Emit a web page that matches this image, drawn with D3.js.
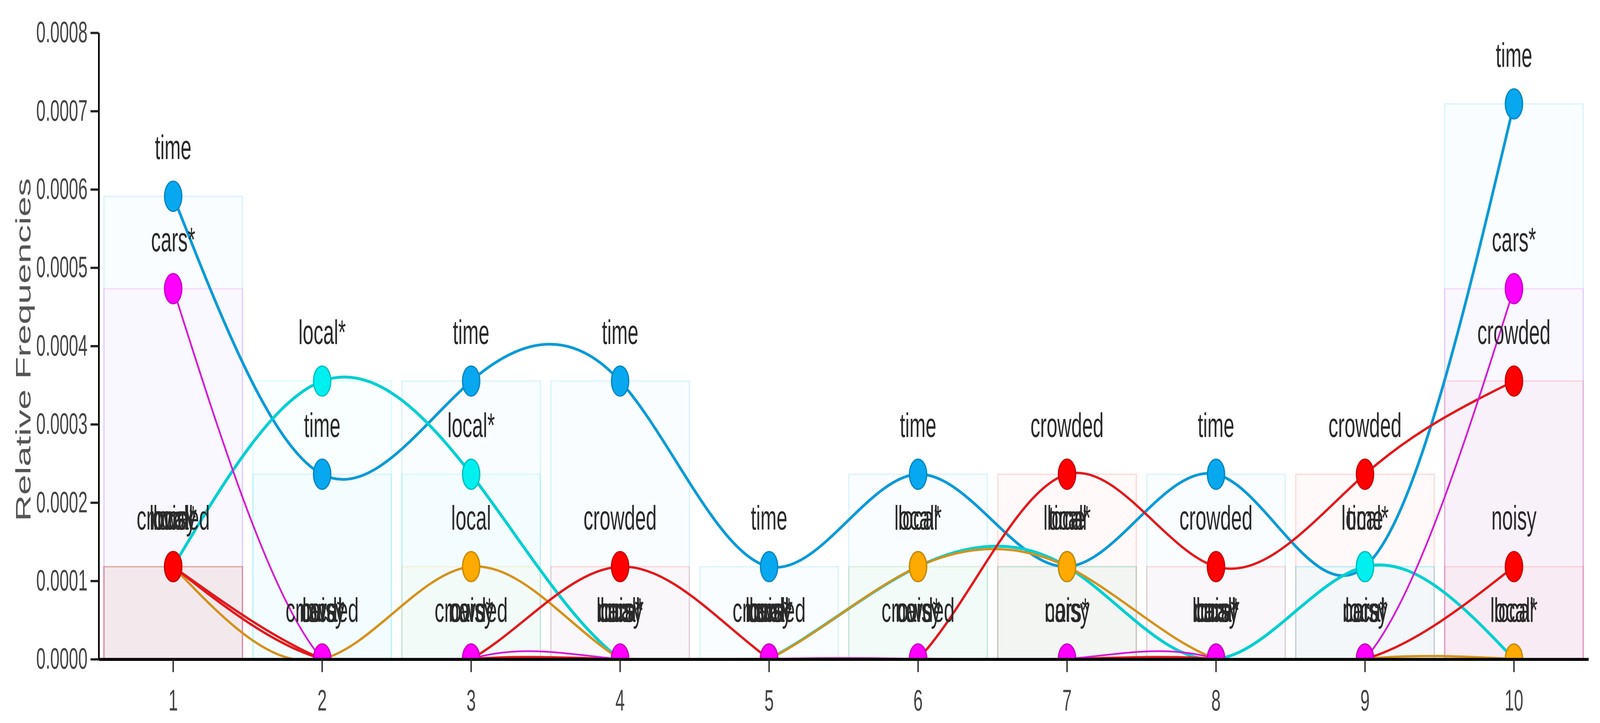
<!DOCTYPE html>
<html>
<head>
<meta charset="utf-8">
<script src="https://cdn.jsdelivr.net/npm/d3@7"></script>
<style>
  html, body { margin: 0; padding: 0; background: #fff; overflow: hidden; width: 100%; height: 100%; }
  svg { display: block; width: 100vw; height: 100vh; }
</style>
</head>
<body>
<svg id="chart"></svg>
<script>
// data
const categories = ["1", "2", "3", "4", "5", "6", "7", "8", "9", "10"];
const seriesNames = ["time", "local*", "local", "crowded", "noisy", "cars*"];
const timeVals    = [0.000591, 0.000236, 0.000355, 0.000355, 0.000118, 0.000236, 0.000118, 0.000236, 0.000118, 0.000709];
const localStar   = [0.000118, 0.000355, 0.000236, 0, 0, 0.000118, 0.000118, 0, 0.000118, 0];
const localVals   = [0.000118, 0, 0.000118, 0, 0, 0.000118, 0.000118, 0, 0, 0];
const crowdedVals = [0.000118, 0, 0, 0.000118, 0, 0, 0.000236, 0.000118, 0.000236, 0.000355];
const noisyVals   = [0.000118, 0, 0, 0, 0, 0, 0, 0, 0, 0.000118];
const carsStar    = [0.000473, 0, 0, 0, 0, 0, 0, 0, 0, 0.000473];
const yTicks = [0, 0.0001, 0.0002, 0.0003, 0.0004, 0.0005, 0.0006, 0.0007, 0.0008];

const seriesValues = [timeVals, localStar, localVals, crowdedVals, noisyVals, carsStar];

// look of each series (line widths are screen pixels)
const styles = {
  "time":    { dot: "#08a8f0", line: "#0b9ad8", width: 7 },
  "local*":  { dot: "#00f0f0", line: "#00cfd2", width: 7.5 },
  "local":   { dot: "#ffaa00", line: "#d4921c", width: 6 },
  "crowded": { dot: "#ff0000", line: "#e3191c", width: 6 },
  "noisy":   { dot: "#ff0000", line: "#e3191c", width: 6 },
  "cars*":   { dot: "#ff00ff", line: "#d61ad6", width: 4.5 }
};

// the reference is stretched vertically, so draw in a squat box and stretch it
const W = 4296, H = 1108;
const mLeft = 265, mRight = 4265, mTop = 50, mBottom = 1010;

const svg = d3.select("#chart")
  .attr("viewBox", `0 0 ${W} ${H}`)
  .attr("preserveAspectRatio", "none");

const x = d3.scaleBand()
  .domain(categories)
  .range([mLeft, mRight])
  .paddingInner(0.07)
  .paddingOuter(0.035);

const y = d3.scaleLinear()
  .domain([0, 0.0008])
  .range([mBottom, mTop]);

const series = seriesNames.map((name, i) => ({
  name,
  values: seriesValues[i].map((v, j) => ({ cat: categories[j], v }))
}));

svg.append("clipPath").attr("id", "plot")
  .append("rect")
  .attr("x", mLeft).attr("y", 0)
  .attr("width", mRight - mLeft).attr("height", mBottom);

const plot = svg.append("g").attr("clip-path", "url(#plot)");

// faint bars behind
series.forEach(s => {
  plot.append("g")
    .selectAll("rect")
    .data(s.values.filter(d => d.v > 0))
    .join("rect")
    .attr("x", d => x(d.cat))
    .attr("width", x.bandwidth())
    .attr("y", d => y(d.v))
    .attr("height", d => y(0) - y(d.v))
    .attr("fill", styles[s.name].dot)
    .attr("fill-opacity", 0.025)
    .attr("stroke", styles[s.name].dot)
    .attr("stroke-opacity", 0.13)
    .attr("stroke-width", 3.5)
    .attr("vector-effect", "non-scaling-stroke");
});

const line = d3.line()
  .x(d => x(d.cat) + x.bandwidth() / 2)
  .y(d => y(d.v))
  .curve(d3.curveNatural);

series.forEach(s => {
  plot.append("path")
    .datum(s.values)
    .attr("d", line)
    .attr("fill", "none")
    .attr("stroke", styles[s.name].line)
    .attr("stroke-width", styles[s.name].width)
    .attr("vector-effect", "non-scaling-stroke");
});

series.forEach(s => {
  plot.append("g")
    .selectAll("circle")
    .data(s.values)
    .join("circle")
    .attr("cx", d => x(d.cat) + x.bandwidth() / 2)
    .attr("cy", d => y(d.v))
    .attr("r", 23)
    .attr("fill", styles[s.name].dot)
    .attr("stroke", d3.color(styles[s.name].dot).darker(0.6))
    .attr("stroke-width", 3.5)
    .attr("vector-effect", "non-scaling-stroke");
});

// word labels above every point
series.forEach(s => {
  svg.append("g")
    .selectAll("text")
    .data(s.values)
    .join("text")
    .attr("x", d => x(d.cat) + x.bandwidth() / 2)
    .attr("y", d => y(d.v) - 57)
    .attr("text-anchor", "middle")
    .attr("font-family", "'Liberation Sans', Arial, sans-serif")
    .attr("font-size", 52)
    .attr("fill", "#2a2a2a")
    .text(s.name);
});

// axes
const xAxis = svg.append("g")
  .attr("transform", `translate(0,${mBottom})`)
  .call(d3.axisBottom(x).tickSize(20).tickSizeOuter(0).tickPadding(27));

const yAxis = svg.append("g")
  .attr("transform", `translate(${mLeft},0)`)
  .call(d3.axisLeft(y).tickValues(yTicks).tickFormat(d3.format(".4f"))
    .tickSize(22).tickSizeOuter(0).tickPadding(8));

[xAxis, yAxis].forEach(g => {
  g.select(".domain").attr("stroke", "#000").attr("stroke-width", 4.5);
  g.selectAll(".tick line").attr("stroke", "#222").attr("stroke-width", 3.5);
  g.selectAll(".tick text")
    .attr("font-family", "'Liberation Sans', Arial, sans-serif")
    .attr("font-size", 45)
    .attr("fill", "#444");
});

svg.append("text")
  .attr("transform", `translate(62,${(mTop + mBottom) / 2 + 6}) rotate(-90)`)
  .attr("text-anchor", "middle")
  .attr("dy", "0.35em")
  .attr("font-family", "'Liberation Sans', Arial, sans-serif")
  .attr("font-size", 56)
  .attr("fill", "#555")
  .text("Relative Frequencies");
</script>
</body>
</html>
